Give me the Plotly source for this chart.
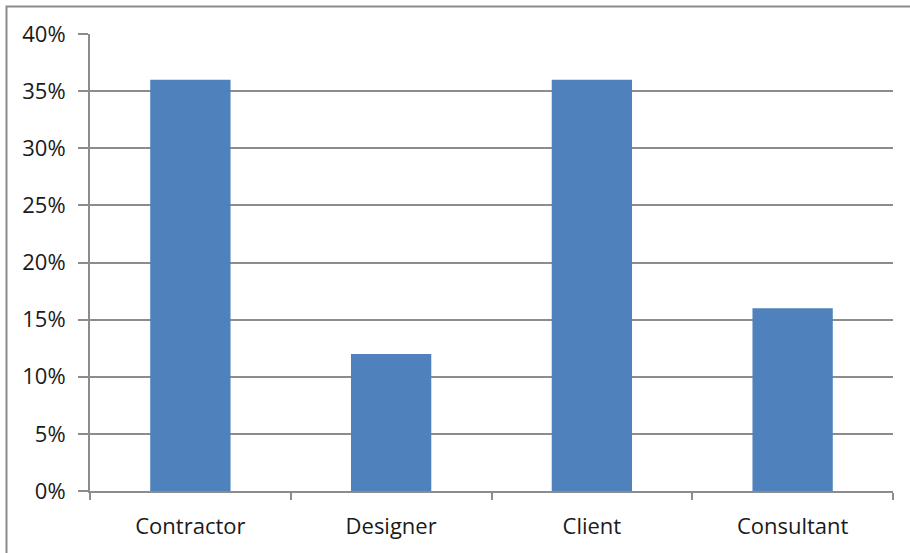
import plotly.graph_objects as go

# Share of responses by project role
roles = ["Contractor", "Designer", "Client", "Consultant"]
shares = [0.36, 0.12, 0.36, 0.16]
y_ticks = [0, 0.05, 0.10, 0.15, 0.20, 0.25, 0.30, 0.35, 0.40]
y_tick_text = ["0%", "5%", "10%", "15%", "20%", "25%", "30%", "35%", "40%"]

BAR = "#4F81BD"
LINE = "#8C8C8C"
TEXT = "#1A1A1A"
FONT = "Open Sans"

W, H = 910, 553
ML, MR, MT, MB = 90, 17, 34, 62
PW, PH = W - ML - MR, H - MT - MB

fig = go.Figure(
    go.Bar(
        x=roles,
        y=shares,
        marker=dict(color=BAR, line=dict(width=0)),
        hoverinfo="x+y",
    )
)

fig.update_layout(
    width=W,
    height=H,
    margin=dict(l=ML, r=MR, t=MT, b=MB, pad=0),
    paper_bgcolor="white",
    plot_bgcolor="white",
    bargap=0.6,
    showlegend=False,
    font=dict(family=FONT, size=22, color=TEXT),
    xaxis=dict(
        type="category",
        showline=True,
        linecolor=LINE,
        linewidth=2,
        ticks="outside",
        tickson="boundaries",
        ticklen=7,
        tickwidth=2,
        tickcolor=LINE,
        showgrid=False,
        ticklabelstandoff=15,
        tickfont=dict(family=FONT, size=22, color=TEXT),
    ),
    yaxis=dict(
        range=[0, 0.40],
        tickvals=y_ticks,
        ticktext=y_tick_text,
        showline=True,
        linecolor=LINE,
        linewidth=2,
        ticks="outside",
        ticklen=10,
        tickwidth=2,
        tickcolor=LINE,
        showgrid=True,
        gridcolor=LINE,
        gridwidth=2,
        zeroline=False,
        ticklabelstandoff=8,
        tickfont=dict(family=FONT, size=22, color=TEXT),
    ),
)

# Chart-area frame (runs past the right and bottom edges of the page)
fig.add_shape(
    type="rect",
    xref="paper",
    yref="paper",
    x0=(6.5 - ML) / PW,
    x1=(W + 20 - ML) / PW,
    y0=-(MB + 20) / PH,
    y1=(H - MB - 6.5) / PH,
    line=dict(color=LINE, width=2),
    fillcolor="rgba(0,0,0,0)",
    layer="below",
)

fig.write_html("out.html")
